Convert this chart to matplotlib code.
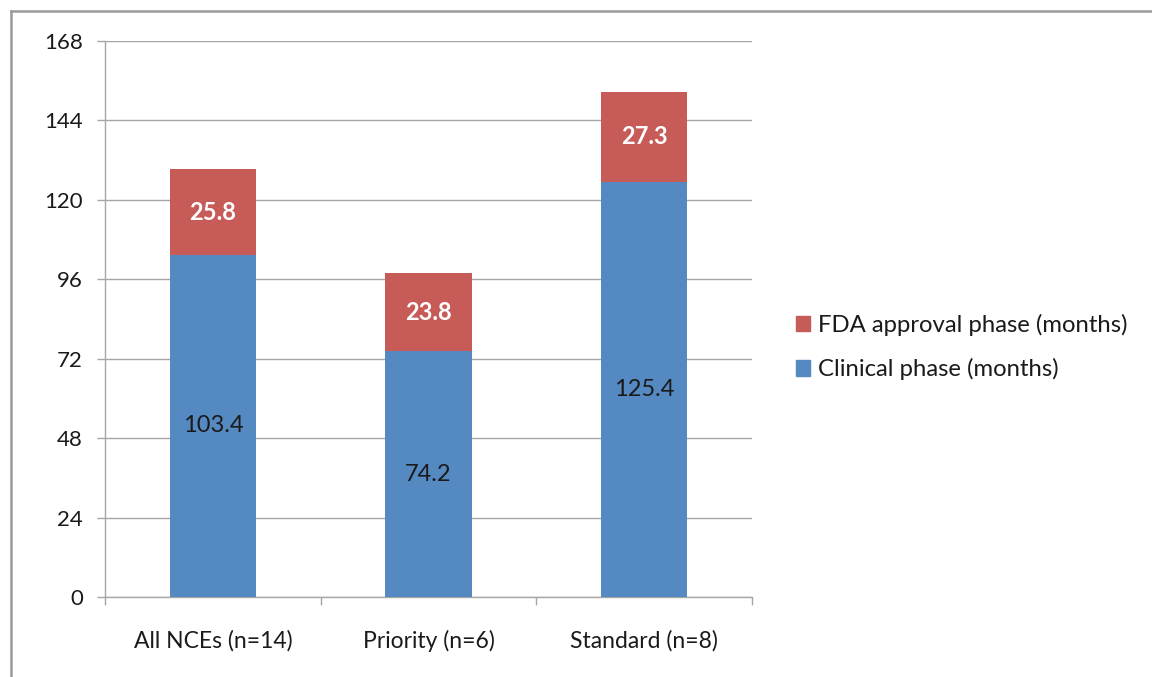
import matplotlib
matplotlib.use("Agg")
import matplotlib.pyplot as plt
from matplotlib.lines import Line2D
from matplotlib.patches import Patch
import numpy as np

categories = ["All NCEs (n=14)", "Priority (n=6)", "Standard (n=8)"]
clinical = [103.4, 74.2, 125.4]
approval = [25.8, 23.8, 27.3]
yticks = [0, 24, 48, 72, 96, 120, 144, 168]

blue = "#5589C1"
red = "#C65B58"
grid_col = "#A6A6A6"

plt.rcParams["font.family"] = ["Lato", "DejaVu Sans"]

fig = plt.figure(figsize=(11.52, 6.77), dpi=100)
ax = fig.add_axes([105 / 1152, 1 - 597 / 677, 647 / 1152, 556 / 677])

x = np.arange(len(categories))
w = 0.40
ax.bar(x, clinical, width=w, color=blue, label="Clinical phase (months)", zorder=3)
ax.bar(x, approval, width=w, bottom=clinical, color=red,
       label="FDA approval phase (months)", zorder=3)

for xi, c, a in zip(x, clinical, approval):
    ax.text(xi, c / 2, f"{c:.1f}", ha="center", va="center", fontsize=17,
            color="#1a1a1a", zorder=4)
    ax.text(xi, c + a / 2, f"{a:.1f}", ha="center", va="center", fontsize=17,
            color="white", fontweight="bold", zorder=4)

ax.set_xlim(-0.5, len(categories) - 0.5)
ax.set_ylim(0, 168)
ax.set_yticks(yticks)
ax.set_yticklabels([str(t) for t in yticks])
ax.yaxis.grid(True, color=grid_col, linewidth=1.0, zorder=0)
ax.set_axisbelow(True)

ax.set_xticks(x)
ax.set_xticklabels(categories)
ax.set_xticks([-0.5, 0.5, 1.5, 2.5], minor=True)
ax.tick_params(axis="x", which="major", length=0, pad=24, labelsize=16.5, colors="#1a1a1a")
ax.tick_params(axis="x", which="minor", length=6, width=1, color=grid_col, direction="out")
ax.tick_params(axis="y", length=6, width=1, color=grid_col, pad=10, labelsize=16,
               labelcolor="#1a1a1a", direction="out")

for side in ["top", "right"]:
    ax.spines[side].set_visible(False)
for side in ["left", "bottom"]:
    ax.spines[side].set_color(grid_col)
    ax.spines[side].set_linewidth(1.0)

handles = [Patch(color=red, label="FDA approval phase (months)"),
           Patch(color=blue, label="Clinical phase (months)")]
fig.legend(handles=handles, loc="center left", bbox_to_anchor=(774 / 1152, 1 - 347 / 677),
           frameon=False, fontsize=17.2, handlelength=0.6, handleheight=0.6,
           handletextpad=0.35, labelspacing=0.95, labelcolor="#1a1a1a")

# outer chart frame (top and left edges)
fig.add_artist(Line2D([11 / 1152, 11 / 1152], [0, 1 - 11 / 677], transform=fig.transFigure,
                      color="#9a9a9a", linewidth=1.8))
fig.add_artist(Line2D([11 / 1152, 1], [1 - 11 / 677, 1 - 11 / 677], transform=fig.transFigure,
                      color="#9a9a9a", linewidth=1.8))

fig.savefig("out.png", dpi=100, facecolor="white")
